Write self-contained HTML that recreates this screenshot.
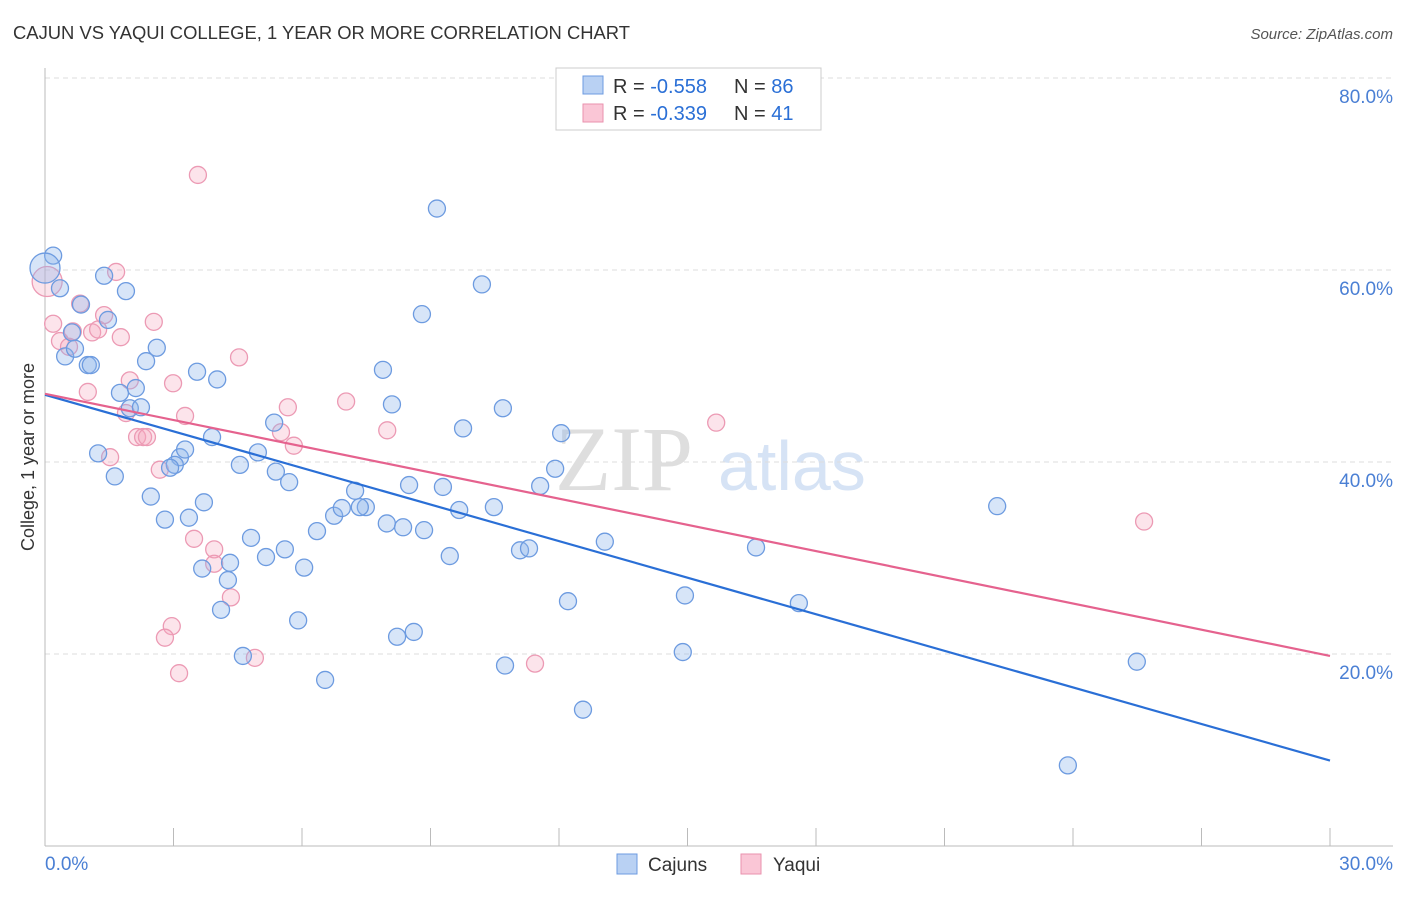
<!DOCTYPE html>
<html><head><meta charset="utf-8"><style>
body{margin:0;background:#fff;font-family:"Liberation Sans",sans-serif;}
</style></head><body>
<svg width="1406" height="892" xmlns="http://www.w3.org/2000/svg" id="svg">
<text x="13" y="39" font-size="18" fill="#333" textLength="617" lengthAdjust="spacingAndGlyphs">CAJUN VS YAQUI COLLEGE, 1 YEAR OR MORE CORRELATION CHART</text>
<text x="1393" y="39" font-size="15" fill="#555" font-style="italic" text-anchor="end">Source: ZipAtlas.com</text>
<text x="0" y="0" transform="translate(34,457) rotate(-90)" font-size="18" fill="#333" text-anchor="middle">College, 1 year or more</text>
<g>
<text x="555" y="490" font-size="92" fill="#dedede" font-family="Liberation Serif,serif">ZIP</text>
<text x="718" y="490" font-size="70" fill="#d6e3f5">atlas</text>
</g>
<g id="grid"></g>
<g id="marks"></g>
<g>
<rect x="556" y="68" width="265" height="62" fill="#fff" stroke="#ccc"/>
<rect x="583" y="76" width="20" height="18" fill="#b9d1f3" stroke="#6d9be0"/>
<rect x="583" y="104" width="20" height="18" fill="#fac6d6" stroke="#e992ae"/>
<text x="613" y="93" font-size="20" fill="#333">R = <tspan fill="#2a6fd6">-0.558</tspan></text>
<text x="734" y="93" font-size="20" fill="#333">N = <tspan fill="#2a6fd6">86</tspan></text>
<text x="613" y="120" font-size="20" fill="#333">R = <tspan fill="#2a6fd6">-0.339</tspan></text>
<text x="734" y="120" font-size="20" fill="#333">N =  <tspan fill="#2a6fd6">41</tspan></text>
</g>
<g>
<rect x="617" y="854" width="20" height="20" fill="#b9d1f3" stroke="#6d9be0"/>
<text x="648" y="871" font-size="19" fill="#333">Cajuns</text>
<rect x="741" y="854" width="20" height="20" fill="#fac6d6" stroke="#e992ae"/>
<text x="773" y="871" font-size="19" fill="#333">Yaqui</text>
</g>
</svg>
<script>
const yTicks=[20,40,60,80];
const yTickLabels=["20.0%","40.0%","60.0%","80.0%"];
const xTicks=[0,3,6,9,12,15,18,21,24,27,30];
const xEndLabels=["0.0%","30.0%"];
const cajunX=[0.19,0.0,0.35,1.38,1.89,0.84,1.47,0.63,0.47,0.70,1.00,1.07,2.61,2.36,1.75,2.12,1.98,2.24,3.55,4.02,1.24,1.63,3.15,3.27,3.03,2.92,2.47,2.80,3.36,3.71,3.90,4.55,4.97,5.39,5.70,5.35,4.81,4.32,4.27,3.67,4.11,5.16,5.60,6.05,4.62,5.91,6.54,6.35,6.75,6.93,7.24,7.49,7.35,7.98,8.36,8.85,9.45,9.67,9.29,8.50,7.89,8.10,8.80,9.15,10.20,9.76,10.69,10.48,11.09,11.30,11.56,11.91,12.05,12.21,12.56,13.07,14.94,14.89,16.60,17.60,10.74,8.22,8.61,22.23,25.49,23.88];
const cajunY=[61.5,60.2,58.1,59.4,57.8,56.4,54.8,53.5,51.0,51.8,50.1,50.1,51.9,50.5,47.2,47.7,45.6,45.7,49.4,48.6,40.9,38.5,40.5,41.3,39.7,39.4,36.4,34.0,34.2,35.8,42.6,39.7,41.0,39.0,37.9,44.1,32.1,29.5,27.7,28.9,24.6,30.1,30.9,29.0,19.8,23.5,17.3,32.8,34.4,35.2,37.0,35.3,35.3,33.6,33.2,32.9,30.2,35.0,37.4,37.6,49.6,46.0,55.4,66.4,58.5,43.5,45.6,35.3,30.8,31.0,37.5,39.3,43.0,25.5,14.2,31.7,26.1,20.2,31.1,25.3,18.8,21.8,22.3,35.4,19.2,8.4];
const yaquiX=[0.05,0.19,0.35,0.65,0.82,0.56,1.00,1.10,1.24,1.38,1.66,1.77,1.52,1.89,1.98,2.15,2.29,2.38,2.54,2.68,2.99,3.27,3.48,3.57,3.95,3.95,4.34,4.53,4.90,2.96,2.80,3.13,5.67,5.51,5.81,7.03,7.99,11.44,15.67,25.66];
const yaquiY=[58.8,54.4,52.6,53.6,56.5,52.0,47.3,53.5,53.8,55.3,59.8,53.0,40.5,45.1,48.5,42.6,42.6,42.6,54.6,39.2,48.2,44.8,32.0,69.9,30.9,29.4,25.9,50.9,19.6,22.9,21.7,18.0,45.7,43.1,41.7,46.3,43.3,19.0,44.1,33.8];
const cajunLine=[47.0,8.9];
const yaquiLine=[47.1,19.8];

const NS="http://www.w3.org/2000/svg";
const X0=45,X1=1330,Y0=846,PXY=9.6;
function sx(v){return X0+(v/30)*(X1-X0);}
function sy(v){return Y0-v*PXY;}
function mk(t,a,p){const e=document.createElementNS(NS,t);for(const k in a)e.setAttribute(k,a[k]);p.appendChild(e);return e;}
const grid=document.getElementById('grid'),marks=document.getElementById('marks');
yTicks.forEach((t,i)=>{
  const l=mk('line',{x1:X0,x2:1393,y1:sy(t),y2:sy(t),stroke:'#ddd','stroke-dasharray':'5,4'},grid);
  
  
  const tx=mk('text',{x:1393,y:sy(t)+25,'font-size':19,fill:'#4a7fd4','text-anchor':'end'},grid);
  tx.textContent=yTickLabels[i];
  
  
});
const ax=mk('line',{x1:X0,x2:X0,y1:68,y2:Y0,stroke:'#bbb'},grid);


const bx=mk('line',{x1:X0,x2:1393,y1:Y0,y2:Y0,stroke:'#bbb'},grid);


xTicks.forEach(t=>{
  const l=mk('line',{x1:sx(t),x2:sx(t),y1:828,y2:Y0,stroke:'#bbb'},grid);
  
  
});
const xl0=mk('text',{x:45,y:870,'font-size':19,fill:'#4a7fd4'},grid);xl0.textContent=xEndLabels[0];


const xl1=mk('text',{x:1393,y:870,'font-size':19,fill:'#4a7fd4','text-anchor':'end'},grid);xl1.textContent=xEndLabels[1];


function pts(xs,ys,fill,stroke,name,bigIdx){
  xs.forEach((x,i)=>{
    const c=mk('circle',{cx:sx(x),cy:sy(ys[i]),r:i===bigIdx?15:8.5,fill:fill,stroke:stroke,'stroke-width':1.3},marks);
    
    
  });
}
pts(yaquiX,yaquiY,'rgba(245,165,190,0.3)','#ec9ab4','yaqui-point',0);
pts(cajunX,cajunY,'rgba(140,180,235,0.35)','#6d9be0','cajun-point',1);
const l1=mk('line',{x1:sx(0),y1:sy(cajunLine[0]),x2:sx(30),y2:sy(cajunLine[1]),stroke:'#2a6fd6','stroke-width':2.2},marks);


const l2=mk('line',{x1:sx(0),y1:sy(yaquiLine[0]),x2:sx(30),y2:sy(yaquiLine[1]),stroke:'#e5628e','stroke-width':2.2},marks);


</script>
</body></html>
